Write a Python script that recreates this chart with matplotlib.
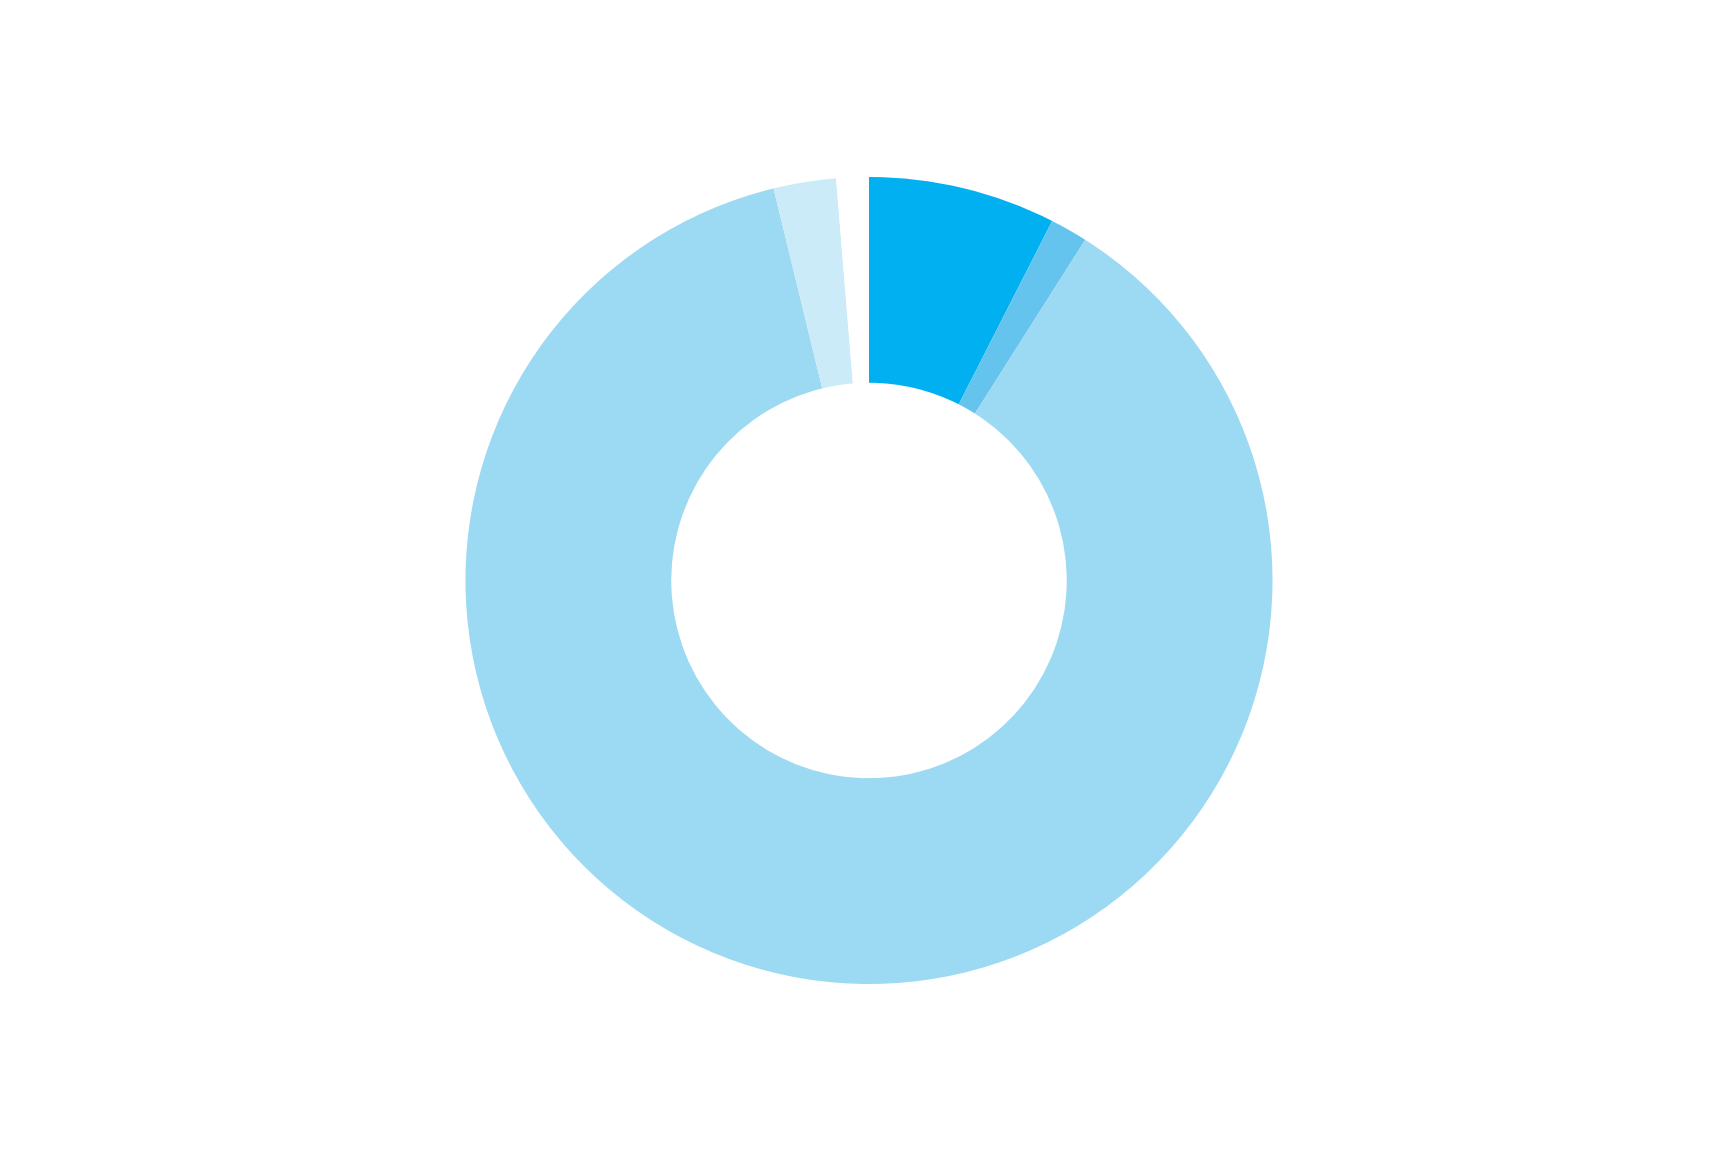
import matplotlib
matplotlib.use("Agg")
import matplotlib.pyplot as plt

# slice shares in percent, clockwise from 12 o'clock
labels = ["A", "B", "C", "D", "E"]
values = [7.5, 1.5, 87.2, 2.5, 1.3]
colors = ["#00B0F0", "#64C4EE", "#9CD9F3", "#CCEBF8", "#FFFFFF"]

fig = plt.figure(figsize=(17.13, 11.51), dpi=100)
ax = fig.add_axes([0.27174, 0.14509, 0.4711, 0.70113])

ax.pie(values, colors=colors, startangle=90, counterclock=False,
       radius=1.0, wedgeprops=dict(width=0.51, linewidth=0))
ax.set_xlim(-1, 1)
ax.set_ylim(-1, 1)
ax.set_aspect("equal")
ax.axis("off")

fig.savefig("out.png", dpi=100, facecolor="white")
